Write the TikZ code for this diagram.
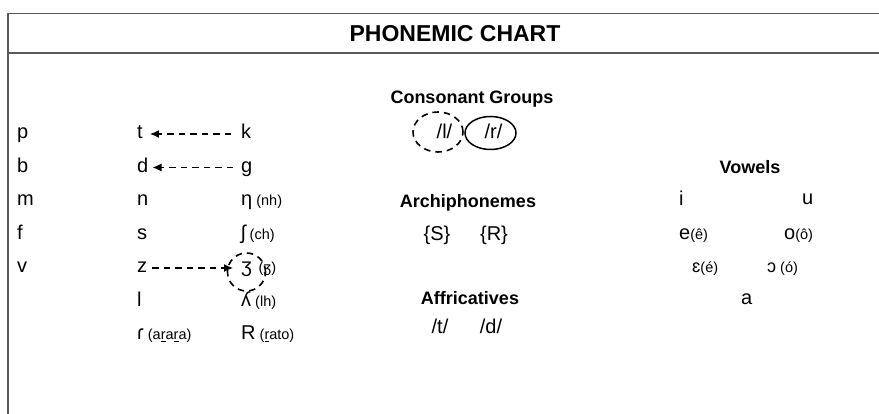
\documentclass[tikz,border=0pt]{standalone}
\usepackage{fontspec}
\setmainfont{Liberation Sans}
\usetikzlibrary{arrows.meta,shapes.geometric}
\newcommand\smtxt[1]{{\fontsize{14.5}{14.5}\selectfont #1}}
\newcommand\midtxt[1]{{\fontsize{18}{18}\selectfont #1}}
\begin{document}
\begin{tikzpicture}[x=1pt,y=-1pt,
  lt/.style={anchor=base west,inner sep=0pt,font=\fontsize{20}{20}\selectfont},
  ct/.style={anchor=base,inner sep=0pt,font=\fontsize{20}{20}\selectfont},
  hd/.style={anchor=base,inner sep=0pt,font=\fontsize{18}{18}\selectfont\bfseries},
  ttl/.style={anchor=base,inner sep=0pt,font=\fontsize{23}{23}\selectfont\bfseries},
  frame/.style={line width=1.8pt,draw=black!65},
  dasharrow/.style={line width=1.3pt,dash pattern=on 6.5pt off 5pt,-{Latex[length=9pt,width=8pt]}},
  dashring/.style={draw,line width=1.6pt,dash pattern=on 6.5pt off 5pt},
  solidring/.style={draw,line width=1.5pt}
]
\useasboundingbox (0,0) rectangle (879,414);
% frame
\coordinate (fbl) at (8,414);
\coordinate (ftl) at (8,13.5);
\coordinate (ftr) at (879,13.5);
\coordinate (fsl) at (8,53);
\coordinate (fsr) at (879,53);
\draw[frame] (fbl) -- (ftl) -- (ftr);
\draw[frame] (fsl) -- (fsr);
\node[ttl] (title) at (455,41.5) {PHONEMIC CHART};
% column 1
\node[lt] (p) at (17,139) {p};
\node[lt] (b) at (17,172.5) {b};
\node[lt] (m) at (17,206) {m};
\node[lt] (f) at (17,239.5) {f};
\node[lt] (v) at (17,273) {v};
% column 2
\node[lt] (t) at (137,139) {t};
\node[lt] (d) at (137,172.5) {d};
\node[lt] (n) at (137,206) {n};
\node[lt] (s) at (137,239.5) {s};
\node[lt] (z) at (137,273) {z};
\node[lt] (l) at (137,306.5) {l};
\node[lt] (tap) at (137,340) {ɾ\smtxt{ (a\underline{r}a\underline{r}a)}};
% column 3
\node[lt] (k) at (241,139) {k};
\node[lt] (g) at (241,172.5) {g};
\node[lt] (nh) at (241,206) {η\smtxt{ (nh)}};
\node[lt] (sh) at (241,239.5) {ʃ\smtxt{ (ch)}};
\node[lt] (zh) at (241,273) {ʒ\smtxt{ \,(ʒ)}};
\node[lt] (lh) at (241,306.5) {ʎ\smtxt{ (lh)}};
\node[lt] (rr) at (241,340) {R\smtxt{ (\underline{r}ato)}};
\node[dashring,circle,minimum size=38pt,inner sep=0pt] (zhring) at (246.5,272) {};
% arrows
\draw[dasharrow] ([xshift=-10pt,yshift=5pt]k.base west) -- ([xshift=7pt,yshift=5pt]t.base east);
\draw[dasharrow] ([xshift=-8pt,yshift=5pt]g.base west) -- ([xshift=4pt,yshift=5pt]d.base east);
\draw[dasharrow] ([xshift=5pt,yshift=5pt]z.base east) -- ([xshift=-8pt,yshift=5pt]zh.base west);
% middle
\node[hd] (cg) at (472,103.5) {Consonant Groups};
\node[dashring,ellipse,minimum width=50pt,minimum height=40pt,inner sep=0pt] (lring) at (438,132) {};
\node[solidring,ellipse,minimum width=51pt,minimum height=33pt,inner sep=0pt] (rring) at (490.5,133) {};
\node[ct] (lgrp) at (444.5,139) {/l/};
\node[ct] (rgrp) at (493.5,139) {/r/};
\node[hd] (arch) at (468,207.5) {Archiphonemes};
\node[ct] (S) at (437,241) {\{S\}};
\node[ct] (R) at (494,241) {\{R\}};
\node[hd] (affr) at (470,304.5) {Affricatives};
\node[ct] (ta) at (440,334) {/t/};
\node[ct] (da) at (491,334) {/d/};
% vowels
\node[hd] (vow) at (750,173.5) {Vowels};
\node[lt] (i) at (679,206) {i};
\node[lt] (u) at (802,205) {u};
\node[lt] (e) at (679,240) {e\smtxt{(ê)}};
\node[lt] (o) at (784,240) {o\smtxt{(ô)}};
\node[lt] (eh) at (692,273) {\midtxt{ɛ}\smtxt{(é)}};
\node[lt] (oh) at (767,273) {\midtxt{ɔ}\smtxt{ (ó)}};
\node[lt] (a) at (741,305) {a};
\end{tikzpicture}
\end{document}
